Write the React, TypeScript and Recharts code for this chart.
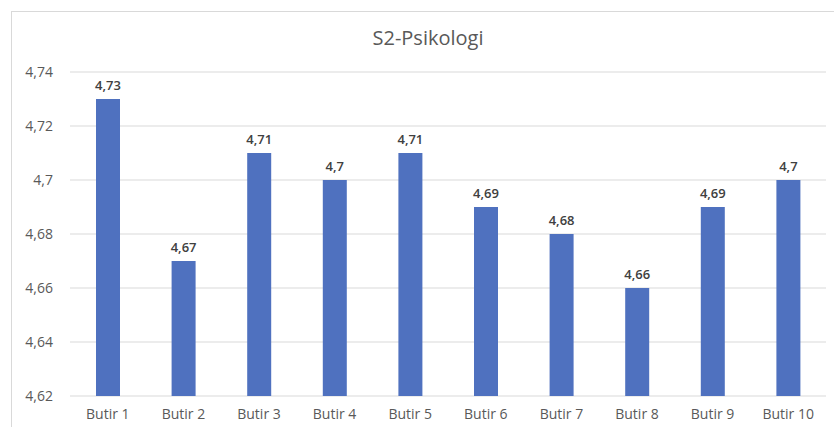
import { BarChart, Bar, XAxis, YAxis, CartesianGrid, LabelList } from 'recharts'

const categories = ['Butir 1', 'Butir 2', 'Butir 3', 'Butir 4', 'Butir 5', 'Butir 6', 'Butir 7', 'Butir 8', 'Butir 9', 'Butir 10']
const scores = [4.73, 4.67, 4.71, 4.7, 4.71, 4.69, 4.68, 4.66, 4.69, 4.7]
const yTicks = [4.62, 4.64, 4.66, 4.68, 4.7, 4.72, 4.74]

const data = categories.map((name, i) => ({ name, value: scores[i] }))

const comma = (v: number | string) => String(v).replace('.', ',')

const font = '"Open Sans", sans-serif'

export default function App() {
  return (
    <div style={{ position: 'absolute', left: 0, top: 0, width: 834, height: 427, background: '#fff', fontFamily: font }}>
      <div
        style={{
          position: 'absolute',
          left: 11,
          top: 11,
          width: 834 - 11,
          height: 427 - 11,
          borderLeft: '1px solid #d9d9d9',
          borderTop: '1px solid #d9d9d9',
        }}
      />
      <div
        style={{
          position: 'absolute',
          left: 0,
          width: 856,
          top: 25,
          textAlign: 'center',
          fontSize: 20,
          color: '#595959',
          lineHeight: '26px',
        }}
      >
        S2-Psikologi
      </div>
      <div style={{ position: 'absolute', left: 0, top: 0 }}>
        <BarChart width={834} height={427} data={data} margin={{ top: 72, right: 8, left: 0, bottom: 0 }}>
          <CartesianGrid vertical={false} stroke="#d9d9d9" />
          <XAxis
            dataKey="name"
            axisLine={false}
            tickLine={false}
            height={31}
            tickMargin={7}
            tick={{ fontSize: 14, fill: '#595959', fontFamily: font }}
          />
          <YAxis
            domain={[4.62, 4.74]}
            ticks={yTicks}
            axisLine={false}
            tickLine={false}
            width={70}
            tickMargin={11}
            tickFormatter={comma}
            tick={{ fontSize: 14, fill: '#595959', fontFamily: font }}
          />
          <Bar dataKey="value" fill="#4F71BF" barSize={24} isAnimationActive={false}>
            <LabelList
              dataKey="value"
              position="top"
              offset={9}
              formatter={comma}
              style={{ fontSize: 13, fill: '#404040', fontFamily: font, fontWeight: 600 }}
            />
          </Bar>
        </BarChart>
      </div>
    </div>
  )
}
